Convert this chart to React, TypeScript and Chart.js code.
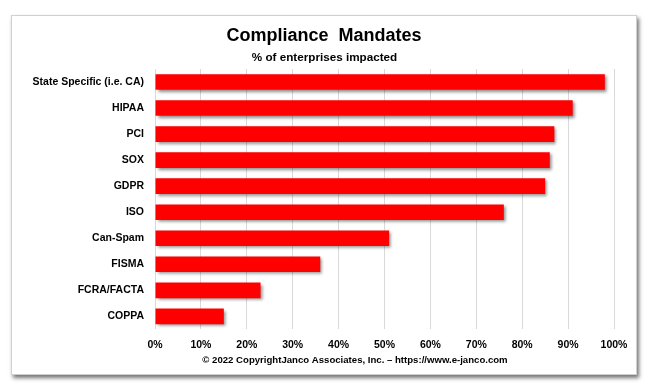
import React, { useEffect, useRef } from "react";
import { Chart, registerables } from "chart.js";

Chart.register(...registerables);

const categories = [
  "State Specific (i.e. CA)",
  "HIPAA",
  "PCI",
  "SOX",
  "GDPR",
  "ISO",
  "Can-Spam",
  "FISMA",
  "FCRA/FACTA",
  "COPPA",
];
const values = [98, 91, 87, 86, 85, 76, 51, 36, 23, 15];
const tickValues = [0, 10, 20, 30, 40, 50, 60, 70, 80, 90, 100];
const titleText = "Compliance  Mandates";
const subtitleText = "% of enterprises impacted";
const footerText = "© 2022 CopyrightJanco Associates, Inc. – https://www.e-janco.com";

const FONT = "'Liberation Sans', Arial, sans-serif";

const shadowPlugin = {
  id: "barShadow",
  beforeDatasetsDraw(chart: any) {
    const ctx = chart.ctx;
    ctx.save();
    ctx.shadowColor = "rgba(0,0,0,0.45)";
    ctx.shadowBlur = 3;
    ctx.shadowOffsetX = 2;
    ctx.shadowOffsetY = 2;
  },
  afterDatasetsDraw(chart: any) {
    chart.ctx.restore();
  },
};

const textPlugin = {
  id: "texts",
  afterDraw(chart: any) {
    const ctx = chart.ctx;
    const cx = chart.width / 2 + 1.5;
    const area = chart.chartArea;
    ctx.save();
    ctx.fillStyle = "#000";
    ctx.textAlign = "center";
    ctx.textBaseline = "middle";
    ctx.font = `bold 18px ${FONT}`;
    ctx.fillText(titleText, cx, 36);
    ctx.font = `bold 11.7px ${FONT}`;
    ctx.fillText(subtitleText, cx + 0.5, 57.5);
    ctx.font = `bold 9.6px ${FONT}`;
    ctx.fillText(footerText, (area.left + area.right) / 2 - 29.5, 360);
    ctx.restore();
  },
};

export default function App() {
  const ref = useRef<HTMLCanvasElement | null>(null);
  useEffect(() => {
    if (!ref.current) return;
    const chart = new Chart(ref.current, {
      type: "bar",
      data: {
        labels: categories,
        datasets: [
          {
            data: values,
            backgroundColor: "#FF0000",
            borderWidth: 0,
            barPercentage: 0.6,
            categoryPercentage: 1,
          },
        ],
      },
      plugins: [shadowPlugin, textPlugin],
      options: {
        indexAxis: "y",
        animation: false,
        responsive: false,
        maintainAspectRatio: false,
        layout: { padding: { left: 0, right: 31, top: 69, bottom: 29 } },
        plugins: {
          legend: { display: false },
          tooltip: { enabled: false },
          title: { display: false },
          subtitle: { display: false },
        },
        scales: {
          x: {
            min: 0,
            max: 100,
            afterBuildTicks(scale: any) {
              scale.ticks = tickValues.map((v) => ({ value: v }));
            },
            ticks: {
              callback: (v: any) => v + "%",
              color: "#000",
              font: { family: FONT, size: 10.5, weight: "bold", lineHeight: 1.2 },
              padding: 9,
              maxRotation: 0,
            },
            grid: { color: "#d9d9d9", drawTicks: false, lineWidth: 1 },
            border: { display: false },
          },
          y: {
            afterFit(scale: any) {
              scale.width = 155;
            },
            ticks: {
              color: "#000",
              font: { family: FONT, size: 10.5, weight: "bold", lineHeight: 1.2 },
              padding: 11,
            },
            grid: { display: false, drawTicks: false },
            border: { display: false },
          },
        },
      },
    } as any);
    return () => chart.destroy();
  }, []);

  return (
    <div style={{ position: "absolute", left: 0, top: 0, width: 645, height: 389, background: "#fff" }}>
      <div
        style={{
          position: "absolute",
          left: 11,
          top: 15,
          width: 624,
          height: 358,
          border: "1px solid #d0d0d0",
          background: "#fff",
          boxShadow: "2px 3px 4px rgba(0,0,0,0.55)",
        }}
      />
      <canvas ref={ref} width={645} height={389} style={{ position: "absolute", left: 0, top: 0 }} />
    </div>
  );
}
